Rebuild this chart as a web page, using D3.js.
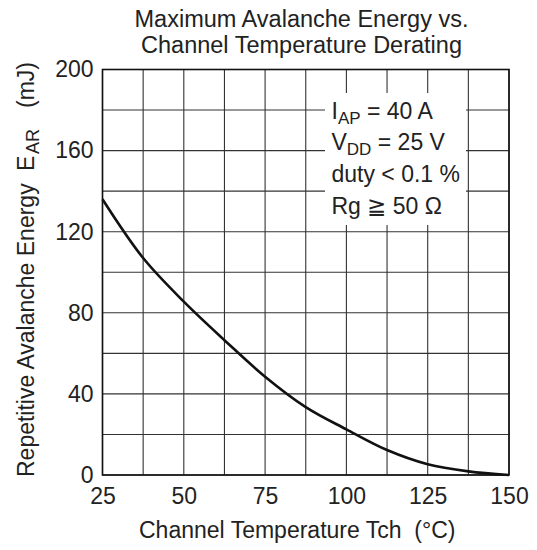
<!DOCTYPE html>
<html>
<head>
<meta charset="utf-8">
<script src="https://cdn.jsdelivr.net/npm/d3@7"></script>
<style>
  body { margin: 0; background: #fff; }
  svg { font-family: "Liberation Sans", Arial, Helvetica, sans-serif; }
  .axis text { font-size: 23px; fill: #222; }
  .axis path, .axis line { display: none; }
</style>
</head>
<body>
<script>
// curve values
const temps = [25, 37.5, 50, 62.5, 75, 87.5, 100, 112.5, 125, 137.5, 150];
const energy = [136, 107, 85.5, 66.5, 48.5, 33.5, 22.5, 12.3, 5.3, 1.8, 0];

const xTicks = [25, 50, 75, 100, 125, 150];
const yTicks = [0, 40, 80, 120, 160, 200];
const xGrid = d3.range(25, 150.1, 12.5);
const yGrid = d3.range(0, 200.1, 20);

const titleLines = ['Maximum Avalanche Energy vs.', 'Channel Temperature Derating'];

const width = 537;
const height = 550;
const plotL = 102.5, plotR = 509, plotT = 69.5, plotB = 475;

const svg = d3.select('body')
    .append('svg')
    .attr('width', width)
    .attr('height', height);

const x = d3.scaleLinear().domain([25, 150]).range([plotL, plotR]);
const y = d3.scaleLinear().domain([0, 200]).range([plotB, plotT]);

// grid
svg.append('g')
    .selectAll('line')
    .data(xGrid)
    .enter()
    .append('line')
    .attr('x1', d => x(d)).attr('x2', d => x(d))
    .attr('y1', plotT).attr('y2', plotB)
    .attr('stroke', '#333').attr('stroke-width', 1.1);
svg.append('g')
    .selectAll('line')
    .data(yGrid)
    .enter()
    .append('line')
    .attr('x1', plotL).attr('x2', plotR)
    .attr('y1', d => y(d)).attr('y2', d => y(d))
    .attr('stroke', '#333').attr('stroke-width', 1.1);

// frame
svg.append('rect')
    .attr('x', plotL).attr('y', plotT)
    .attr('width', plotR - plotL).attr('height', plotB - plotT)
    .attr('fill', 'none')
    .attr('stroke', '#111')
    .attr('stroke-width', 1.6);

// annotation box
svg.append('rect')
    .attr('x', 325).attr('y', 93)
    .attr('width', 141).attr('height', 132)
    .attr('fill', '#fff');

const note = svg.append('g')
    .attr('font-size', 23)
    .attr('fill', '#222');

const sub = (t, main, s, rest) => {
    t.append('tspan').text(main);
    t.append('tspan').attr('font-size', 17).attr('dy', 5).text(s);
    t.append('tspan').attr('dy', -5).text(rest);
};
sub(note.append('text').attr('x', 331.5).attr('y', 118.5), 'I', 'AP', ' = 40 A');
sub(note.append('text').attr('x', 331.5).attr('y', 149.5), 'V', 'DD', ' = 25 V');
note.append('text').attr('x', 331.5).attr('y', 181.5).text('duty < 0.1 %');
note.append('text').attr('x', 331.5).attr('y', 213.5).text('Rg \u2267 50 \u03A9');

// curve
const line = d3.line()
    .x(d => x(d[0]))
    .y(d => y(d[1]))
    .curve(d3.curveCatmullRom.alpha(0.5));

svg.append('path')
    .datum(temps.map((t, i) => [t, energy[i]]))
    .attr('d', line)
    .attr('fill', 'none')
    .attr('stroke', '#111')
    .attr('stroke-width', 2.6);

// axes
svg.append('g')
    .attr('class', 'axis')
    .attr('transform', `translate(0, ${plotB})`)
    .call(d3.axisBottom(x).tickValues(xTicks).tickSize(0).tickPadding(13));
svg.append('g')
    .attr('class', 'axis')
    .attr('transform', `translate(${plotL}, 0)`)
    .call(d3.axisLeft(y).tickValues(yTicks).tickSize(0).tickPadding(9));

// titles
svg.append('g')
    .selectAll('text')
    .data(titleLines)
    .enter()
    .append('text')
    .attr('x', 301.5)
    .attr('y', (d, i) => 27 + i * 26)
    .attr('text-anchor', 'middle')
    .attr('font-size', 23.5)
    .attr('fill', '#222')
    .text(d => d);

svg.append('text')
    .attr('x', 139)
    .attr('y', 538)
    .attr('font-size', 23)
    .attr('fill', '#222')
    .attr('xml:space', 'preserve')
    .text('Channel Temperature Tch  (\u00B0C)');

// rotated label, x runs up the page from y = 477
const yLab = svg.append('text')
    .attr('transform', 'translate(34, 477) rotate(-90)')
    .attr('font-size', 23)
    .attr('fill', '#222');
yLab.append('tspan').attr('x', 0).text('Repetitive Avalanche Energy');
yLab.append('tspan').attr('x', 306).text('E');
yLab.append('tspan').attr('x', 323).attr('font-size', 18).attr('dy', 5).text('AR');
yLab.append('tspan').attr('x', 369).attr('dy', -5).text('(mJ)');
</script>
</body>
</html>
